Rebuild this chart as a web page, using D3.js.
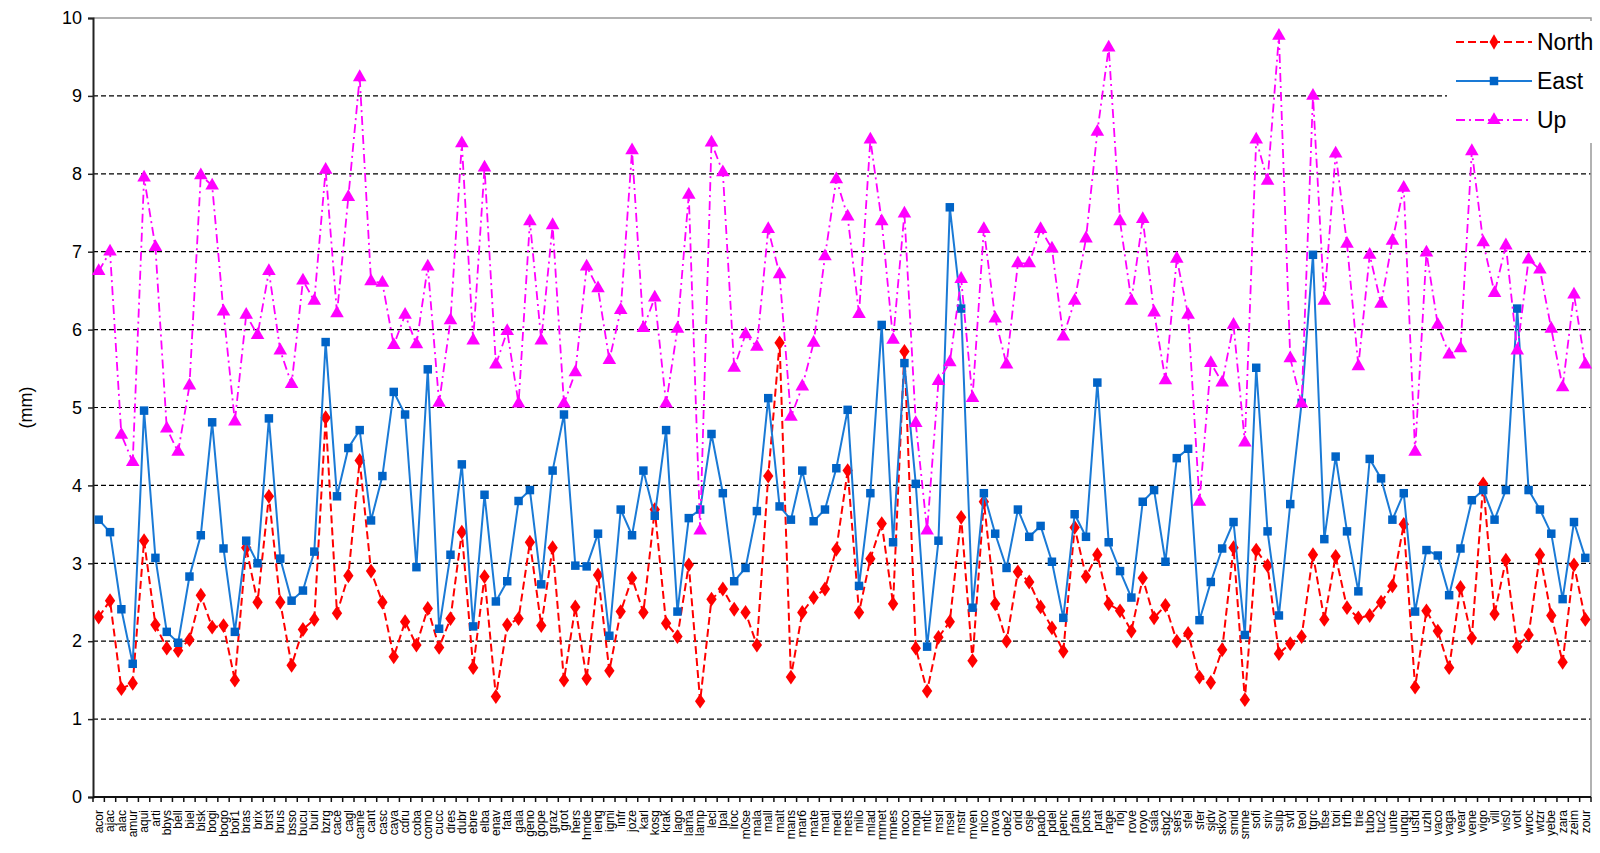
<!DOCTYPE html>
<html>
<head>
<meta charset="utf-8">
<script src="https://cdn.jsdelivr.net/npm/d3@7"></script>
<style>
    body { margin: 0; background: #fff; }
    text { font-family: "Liberation Sans", Arial, sans-serif; }
</style>
</head>
<body>
<div id="line-chart"></div>
<script>
var stations = ["acor","ajac","alac","amur","aqui","arti","bbys","bell","biel","bisk",
    "bogi","bogo","bor1","bras","brix","brst","brus","bsso","bucu","buri",
    "bzrg","cace","cagl","came","cant","casc","caya","cdru","coba","como",
    "cucc","dres","dubr","ebre","elba","enav","fata","gala","geno","gope",
    "graz","grot","hers","hmde","ieng","igmi","infr","joze","karl","kosg",
    "krak","lago","lama","lamp","lecl","lpal","lroc","m0se","mala","mall",
    "malt","mans","mar6","mate","matl","medi","mets","milo","mlad","mmet",
    "mnes","noco","mopi","mtlc","msrl","msel","mstr","mven","nico","nova",
    "obe2","orid","osje","pado","pdel","penc","pfan","pots","prat","rage",
    "rioj","rove","royo","sala","sbg2","sers","sfel","sfer","sjdv","skov",
    "smid","smne","sofi","sriv","sulp","svtl","teol","tgrc","tlse","tori",
    "trfb","trie","tubo","tuc2","unte","ungu","usfd","uzhl","vaco","vaga",
    "vear","vene","vigo","vill","vis0","volt","wroc","wtzr","yebe","zara",
    "zeim","zour"]

var north = [2.31,2.52,1.39,1.46,3.29,2.21,1.91,1.88,2.02,2.59,
    2.18,2.20,1.50,3.20,2.50,3.86,2.50,1.69,2.15,2.28,
    4.87,2.36,2.84,4.32,2.90,2.50,1.80,2.25,1.95,2.42,
    1.92,2.29,3.40,1.66,2.83,1.29,2.21,2.29,3.27,2.20,
    3.20,1.50,2.44,1.52,2.85,1.62,2.38,2.81,2.37,3.69,
    2.23,2.06,2.98,1.23,2.54,2.67,2.41,2.37,1.95,4.12,
    5.83,1.54,2.37,2.56,2.67,3.18,4.19,2.37,3.06,3.51,
    2.48,5.72,1.91,1.36,2.05,2.25,3.59,1.75,3.79,2.48,
    2.00,2.89,2.76,2.44,2.17,1.87,3.46,2.83,3.11,2.48,
    2.39,2.13,2.81,2.30,2.46,2.00,2.10,1.54,1.47,1.89,
    3.20,1.25,3.17,2.97,1.84,1.97,2.06,3.11,2.28,3.09,
    2.43,2.30,2.33,2.50,2.71,3.50,1.41,2.39,2.13,1.66,
    2.69,2.04,4.02,2.35,3.04,1.93,2.08,3.11,2.33,1.73,
    2.98,2.28]

var east = [3.56,3.40,2.41,1.71,4.96,3.07,2.12,1.98,2.83,3.36,
    4.81,3.19,2.12,3.29,3.00,4.86,3.06,2.52,2.65,3.15,
    5.84,3.86,4.48,4.71,3.55,4.12,5.20,4.91,2.95,5.49,
    2.16,3.11,4.27,2.19,3.88,2.51,2.77,3.80,3.94,2.73,
    4.19,4.91,2.97,2.96,3.38,2.07,3.69,3.36,4.19,3.61,
    4.71,2.38,3.58,3.69,4.66,3.90,2.77,2.94,3.67,5.12,
    3.73,3.56,4.19,3.54,3.69,4.22,4.97,2.71,3.90,6.06,
    3.27,5.57,4.02,1.93,3.29,7.57,6.27,2.43,3.90,3.38,
    2.94,3.69,3.34,3.48,3.02,2.30,3.63,3.34,5.32,3.27,
    2.90,2.56,3.79,3.94,3.02,4.35,4.47,2.27,2.76,3.19,
    3.53,2.08,5.51,3.41,2.33,3.76,5.06,6.96,3.31,4.37,
    3.41,2.64,4.34,4.09,3.56,3.90,2.38,3.17,3.10,2.59,
    3.19,3.81,3.94,3.56,3.94,6.27,3.94,3.69,3.38,2.54,
    3.53,3.07]

var up = [6.75,7.00,4.65,4.30,7.95,7.06,4.73,4.43,5.28,7.98,
    7.85,6.23,4.82,6.19,5.93,6.75,5.73,5.30,6.63,6.37,
    8.05,6.21,7.70,9.24,6.62,6.60,5.80,6.19,5.81,6.81,
    5.06,6.12,8.39,5.86,8.08,5.55,5.98,5.05,7.39,5.86,
    7.34,5.05,5.45,6.81,6.53,5.61,6.25,8.30,6.02,6.41,
    5.05,6.01,7.73,3.42,8.40,8.02,5.51,5.94,5.78,7.29,
    6.71,4.88,5.27,5.83,6.94,7.93,7.45,6.20,8.44,7.39,
    5.87,7.49,4.80,3.42,5.34,5.58,6.65,5.12,7.29,6.14,
    5.55,6.85,6.85,7.29,7.04,5.91,6.37,7.17,8.54,9.62,
    7.39,6.37,7.42,6.22,5.35,6.91,6.19,3.79,5.57,5.32,
    6.06,4.55,8.44,7.91,9.77,5.63,5.05,9.00,6.37,8.26,
    7.10,5.53,6.96,6.33,7.14,7.82,4.43,6.99,6.06,5.68,
    5.76,8.29,7.12,6.47,7.08,5.73,6.90,6.77,6.01,5.26,
    6.45,5.55]

var yTicks = [0,1,2,3,4,5,6,7,8,9,10]
var seriesNames = ["North","East","Up"]

var width = 1600, height = 853
var margin = {top: 18, right: 9, bottom: 56, left: 93}

var svg = d3.select('#line-chart')
    .append('svg')
    .attr('width', width)
    .attr('height', height)

var xScale = d3.scaleBand().domain(stations)
    .range([margin.left, width - margin.right]).padding(0)
var yScale = d3.scaleLinear().domain([0, 10])
    .range([height - margin.bottom, margin.top])
var cx = function(d, i) { return xScale(stations[i]) + xScale.bandwidth() / 2 }

// dashed grid lines
svg.append('g').selectAll('line')
    .data(yTicks.filter(function(t){ return t > 0 && t < 10 }))
    .enter().append('line')
    .attr('x1', margin.left).attr('x2', width - margin.right)
    .attr('y1', function(d){ return yScale(d) }).attr('y2', function(d){ return yScale(d) })
    .attr('stroke', '#000').attr('stroke-width', 1.2)
    .attr('stroke-dasharray', '5,3')

// plot frame (top, right)
svg.append('path')
    .attr('d', 'M' + margin.left + ',' + yScale(10) + 'H' + (width - margin.right) + 'V' + yScale(0))
    .attr('fill', 'none').attr('stroke', '#999').attr('stroke-width', 1.5)

// y axis
var yAxis = d3.axisLeft(yScale).tickValues(yTicks).tickSize(5).tickPadding(6)
var gy = svg.append('g')
    .attr('transform', 'translate(' + margin.left + ',0)')
    .call(yAxis)
gy.select('.domain').attr('stroke', '#222').attr('stroke-width', 2)
gy.selectAll('.tick line').attr('stroke', '#222').attr('stroke-width', 1.5)
gy.selectAll('.tick text').attr('font-size', 18).attr('fill', '#000')
    .attr('font-family', '"Liberation Sans", Arial, sans-serif')

// x axis: ticks between categories, labels rotated
var gx = svg.append('g')
svg.append('line')
    .attr('x1', margin.left).attr('x2', width - margin.right)
    .attr('y1', yScale(0)).attr('y2', yScale(0))
    .attr('stroke', '#111').attr('stroke-width', 2)
var bounds = stations.map(function(s){ return xScale(s) }).concat([width - margin.right])
gx.selectAll('line.xt')
    .data(bounds)
    .enter().append('line')
    .attr('class', 'xt')
    .attr('x1', function(d){ return d }).attr('x2', function(d){ return d })
    .attr('y1', yScale(0)).attr('y2', yScale(0) + 5)
    .attr('stroke', '#111').attr('stroke-width', 1.5)
gx.selectAll('text')
    .data(stations)
    .enter().append('text')
    .attr('transform', function(d, i) {
        return 'translate(' + cx(d, i) + ',' + (yScale(0) + 13) + ') rotate(-90)'
    })
    .attr('text-anchor', 'end')
    .attr('dy', '0.35em')
    .attr('font-size', 12)
    .text(function(d){ return d })

// y title
svg.append('text')
    .attr('transform', 'translate(32,' + ((yScale(0) + yScale(10)) / 2) + ') rotate(-90)')
    .attr('text-anchor', 'middle')
    .attr('font-size', 18)
    .text('(mm)')

var styles = [
    {name: 'North', data: north, line: '#ff0000', fill: '#ff0000', dash: '8,4', width: 2, shape: d3.symbolDiamond, size: 70},
    {name: 'East', data: east, line: '#1a7ad6', fill: '#0063c6', dash: null, width: 2, shape: d3.symbolSquare, size: 72},
    {name: 'Up', data: up, line: '#ff00ff', fill: '#ff00ff', dash: '9,4,2,4', width: 1.8, shape: d3.symbolTriangle, size: 80}
]

var lineGen = d3.line()
    .x(function(d, i) { return cx(d, i) })
    .y(function(d) { return yScale(d) })

styles.forEach(function(s) {
    svg.append('path')
        .attr('d', lineGen(s.data))
        .attr('fill', 'none')
        .attr('stroke', s.line)
        .attr('stroke-width', s.width)
        .attr('stroke-dasharray', s.dash)
    svg.append('g').selectAll('path')
        .data(s.data)
        .enter().append('path')
        .attr('d', d3.symbol().type(s.shape).size(s.size))
        .attr('transform', function(d, i) {
            var sx = s.shape === d3.symbolDiamond ? ' scale(1.15,0.95)' : ''
            return 'translate(' + cx(d, i) + ',' + yScale(d) + ')' + sx
        })
        .attr('fill', s.fill)
})

// legend
var legend = svg.append('g')
legend.append('rect')
    .attr('x', 1447).attr('y', 21).attr('width', 153).attr('height', 122)
    .attr('fill', '#fff')
var item = legend.selectAll('g.item')
    .data(styles)
    .enter().append('g')
    .attr('class', 'item')
    .attr('transform', function(d, i) { return 'translate(0,' + (42 + i * 39) + ')' })
item.append('line')
    .attr('x1', 1456).attr('x2', 1532)
    .attr('stroke', function(d){ return d.line })
    .attr('stroke-width', function(d){ return d.width })
    .attr('stroke-dasharray', function(d){ return d.dash })
item.append('path')
    .attr('d', function(d){ return d3.symbol().type(d.shape).size(d.size)() })
    .attr('transform', 'translate(1494,0)')
    .attr('fill', function(d){ return d.fill })
item.append('text')
    .attr('x', 1537).attr('dy', '0.35em')
    .attr('font-size', 23)
    .text(function(d){ return d.name })
</script>
</body>
</html>
